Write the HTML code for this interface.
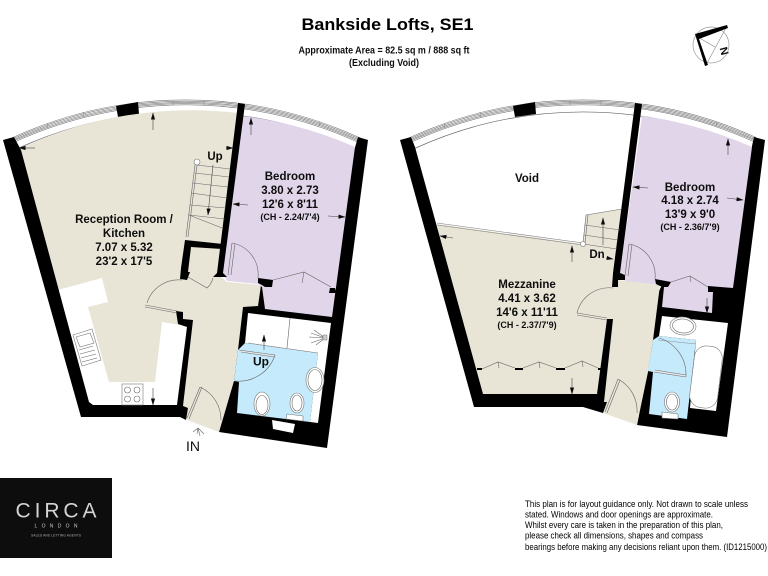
<!DOCTYPE html>
<html><head><meta charset="utf-8"><style>
html,body{margin:0;padding:0;background:#fff;width:768px;height:576px;overflow:hidden}
svg{display:block;overflow:hidden}
text{font-family:"Liberation Sans",sans-serif;fill:#111}
.b{font-weight:bold;font-size:11.5px;text-anchor:middle}
.s{font-weight:bold;font-size:9px;text-anchor:middle}
.d{font-size:9.6px;fill:#000}
.l{fill:none;stroke:#666;stroke-width:.6}
.f{fill:#fff;stroke:#777;stroke-width:.6}
.a{stroke:#444;stroke-width:.6;fill:none;marker-end:url(#m)}
</style></head><body>
<svg width="768" height="576" viewBox="0 0 768 576" xmlns="http://www.w3.org/2000/svg">
<defs>
<filter id="bl" filterUnits="userSpaceOnUse" x="0" y="0" width="768" height="576"><feGaussianBlur stdDeviation=".3"/></filter>
<marker id="m" markerWidth="7" markerHeight="5" refX="6.5" refY="2.5" orient="auto" markerUnits="userSpaceOnUse"><path d="M0,0.4L7,2.5L0,4.6z" fill="#111"/></marker>
<g id="win">
<g fill="none" stroke="#777" stroke-width=".6">
<path d="M12.6,137.6A418,418 0 0 1 359.4,137.6"/>
<path d="M13.1,138.7A416.8,416.8 0 0 1 358.9,138.7"/>
<path d="M13.7,139.8A415.6,415.6 0 0 1 358.3,139.8"/>
<path d="M14.1,140.9A414.4,414.4 0 0 1 357.9,140.9"/>
<path d="M14.6,142A413.2,413.2 0 0 1 357.4,142"/>
<path d="M17.6,148.5A406,406 0 0 1 354.4,148.5" stroke="#666" stroke-width=".7"/>
</g>
<g stroke="#888" stroke-width=".6"><path d="M47,123l1,5M83,112l1,5M173,101v4M204,101v4M320,122l-1,4"/></g>
<polygon points="116,106 138,102 139,114 118,117" fill="#000"/>
</g>
</defs>
<rect width="768" height="576" fill="#fff"/>
<g filter="url(#bl)">
<rect width="768" height="576" fill="#fff"/>

<!-- titles -->
<text x="387.5" y="30" font-size="17" font-weight="bold" text-anchor="middle" textLength="172" lengthAdjust="spacingAndGlyphs" style="fill:#000">Bankside Lofts, SE1</text>
<text x="384" y="53.5" font-size="10" font-weight="bold" text-anchor="middle" textLength="171" lengthAdjust="spacingAndGlyphs">Approximate Area = 82.5 sq m / 888 sq ft</text>
<text x="384" y="66" font-size="10" font-weight="bold" text-anchor="middle" textLength="70" lengthAdjust="spacingAndGlyphs">(Excluding Void)</text>

<!-- compass -->
<circle cx="711" cy="45" r="18" fill="none" stroke="#999" stroke-width=".7"/>
<path d="M696,36L715,47M727,26L706,65" stroke="#888" stroke-width=".6" fill="none"/>
<polygon points="695,34 727,25 728,28 699,39 708,65 705,66" fill="#000"/>
<text x="724" y="55" font-size="11" font-weight="bold" text-anchor="middle" transform="rotate(-105 724 51)">N</text>

<!-- LEFT PLAN -->
<use href="#win"/>
<polygon points="358,137 368,140 327,448 219,432 222,420 243,300 265,280 340,200" fill="#000"/>
<path d="M20,148A406,406 0 0 1 238,113L217,273L227,282L261,285L258,306L243,307L238,350L234,381L222,422L219,432L187,420L183,406L177,405L89,402Z" fill="#e8e5d7"/>
<path d="M243,116A406,406 0 0 1 355,147L332,317L265,309L262,287L258,284L227,281L223,273Z" fill="#e1d5ea"/>
<polygon points="335,288 330,288 329,293 336,293" fill="#000"/>
<polygon points="58,290 102,278 108,302 88,307 109,382 155,382 162,322 187,326 177,405 93,405 89,402" fill="#fff"/>
<polygon points="248,313 331,323 318,423 310,422 318,353 245,343" fill="#fff"/>
<polygon points="245,343 238,350 234,381 239,382 237,413 310,422 318,353" fill="#c5eafb"/>
<polygon points="272,420 295,424 293,433 273,429" fill="#fff"/>
<!-- walls -->
<polygon points="3,140 14,137 21,150 89,402 93,405 177,405 187,327 178,324 176,311 183,312 183,319 193,320 183,406 188,408 186,420 180,417 81,417" fill="#000"/>
<polygon points="238,103 245,104 223,273 227,277 213,277 217,273" fill="#000"/>
<polygon points="185,240 223,244 222,249 191,247 188,272 190,272 187,280 180,279 181,268" fill="#000"/>
<polygon points="258,278 273,280 272,287 265,287 262,285 258,283" fill="#000"/>
<!-- stairs -->
<g class="l">
<path d="M197,165L188,237M195,165L186,237"/>
<path d="M197,165L230,169M195,173L229,177M193,183L228,187M191,193L227,198M190,205L226,208M189,215L225,219M189,215L222,228"/>
</g>
<circle cx="197" cy="162" r="3" fill="#fff" stroke="#777" stroke-width=".6"/>
<path class="a" d="M213,165L208,215"/>
<!-- kitchen fittings -->
<polygon class="f" points="73,335 92,329 101,360 82,366"/>
<polygon class="f" points="76,337 90,333 94,343 80,347"/>
<path class="l" d="M79,350l14,-4M80,354l15,-4M81,358l15,-4M82,362l15,-4"/>
<rect class="f" x="122" y="384" width="21" height="21"/>
<circle class="l" cx="127.5" cy="390" r="3"/><circle class="l" cx="137" cy="390" r="3"/><circle class="l" cx="127.5" cy="399" r="3"/><circle class="l" cx="137" cy="399" r="3"/>
<path class="a" d="M153,388V405"/>
<!-- doors -->
<path d="M145,305L177,311M145,307L177,313" class="l"/>
<path class="l" d="M147,303A33,33 0 0 1 182,280"/>
<path class="l" d="M188,277L207,288A20,20 0 0 0 213,278"/>
<path d="M232,243L228,275M235,243L231,275" class="l"/>
<path class="l" d="M232,243A32,32 0 0 1 258,278"/>
<path class="l" d="M273,280L304,272L331,287M304,272L302,283"/>
<path class="l" d="M200,387L187,418M202,387L189,419"/>
<path class="l" d="M200,387A36,36 0 0 1 221,420"/>
<!-- bathroom left -->
<path d="M290,318L287,348" class="l"/>
<path d="M248,343L318,353" stroke="#777" stroke-width=".5" fill="none"/>
<path d="M239,350L275,355L274,357L241,352" fill="#e4e8ec" stroke="#666" stroke-width=".5"/>
<path class="l" d="M275,355A38,38 0 0 1 235,381"/>
<path class="a" d="M264,350V335"/>
<text class="b" x="261" y="365.5" style="font-size:12px">Up</text>
<path class="l" d="M309,337L325,338M311,333L325,338M311,343L325,338M314,330L325,338M316,345L325,338"/>
<rect x="323" y="335" width="4" height="5" fill="#ccc" stroke="#666" stroke-width=".4"/>
<ellipse class="f" cx="315" cy="380" rx="9" ry="12.5"/><ellipse class="l" cx="315" cy="380" rx="7" ry="10.5"/>
<ellipse class="f" cx="262" cy="404" rx="8" ry="12"/><ellipse class="l" cx="262" cy="405" rx="6" ry="9.5"/>
<ellipse class="f" cx="297" cy="403" rx="7" ry="10"/><ellipse class="l" cx="297" cy="403" rx="5" ry="8"/>
<polygon class="f" points="287,414 303,416 303,421 286,419"/>

<!-- left plan arrows -->
<path class="a" d="M153,130V113"/><path class="a" d="M35,148H19"/><path class="a" d="M226,148H233"/><path class="a" d="M248,205L233,204"/><path class="a" d="M251,135V118"/><path class="a" d="M328,216L345,217"/>

<!-- left labels -->
<text class="b" x="124" y="223">Reception Room /</text>
<text class="b" x="124" y="237">Kitchen</text>
<text class="b" x="124" y="251">7.07 x 5.32</text>
<text class="b" x="124" y="265">23'2 x 17'5</text>
<text class="b" x="215" y="160">Up</text>
<text class="b" x="290" y="180">Bedroom</text>
<text class="b" x="290" y="194">3.80 x 2.73</text>
<text class="b" x="290" y="208">12'6 x 8'11</text>
<text class="s" x="290" y="220">(CH - 2.24/7'4)</text>
<text x="193" y="451" font-size="14" text-anchor="middle">IN</text>
<path class="l" d="M198,428L193,432M198,428L200,436M198,428L204,434M198,428L197,434"/>

<!-- RIGHT PLAN -->
<use href="#win" transform="translate(397,0)"/>
<polygon points="754,137 765,140 727,437 637,425 639,415 655,300 665,278 740,200" fill="#000"/>
<polygon points="437,224 583,244 586,215 622,209 612,287 618,280 660,285 653,340 648,372 639,415 637,425 603,413 583,407 474,407" fill="#e8e5d7"/>
<path d="M642,116A406,406 0 0 1 752,147L733,288L708,286L708,292L713,292L712,313L662,307L664,287L660,285L625,281L620,273Z" fill="#e1d5ea"/>
<polygon points="662,316 728,323 716,411 690,408 696,340 659,336" fill="#fff"/>
<polygon points="659,336 696,340 687,419 649,414 653,372 648,371 653,340" fill="#c5eafb"/>
<polygon points="400,140 411,137 415,147 483,394 597,394 607,319 613,319 604,402 607,402 603,413 583,407 474,407" fill="#000"/>
<polygon points="635,103 642,104 620,273 625,275 625,280 618,280 618,287 612,287 613,273" fill="#000"/>
<polygon points="655,279 671,282 668,287 664,287 660,286 656,284" fill="#000"/>
<!-- void edge -->
<path d="M437,223L583,243M437,225L583,245" stroke="#777" stroke-width=".6" fill="none"/>
<!-- stairs right -->
<g class="l">
<path d="M586,215L583,243M588,215L585,243M586,215L622,209M585,225L620,230M584,235L618,240M583,244L617,249"/>
</g>
<circle cx="583" cy="244" r="2.5" fill="#fff" stroke="#777" stroke-width=".6"/>
<path class="a" d="M603,245V218"/>
<!-- wardrobe -->
<g fill="#000"><rect x="477" y="368" width="5" height="2"/><rect x="515" y="368" width="8" height="2"/><rect x="556" y="368" width="9" height="2"/><rect x="598" y="368" width="3" height="2"/></g>
<path class="l" d="M482,369L498,362L515,368M498,362l1,6M523,368L539,362L556,368M539,362l1,6M565,368L582,361L598,368M582,361l1,6"/>
<path class="a" d="M572,378V394"/>
<!-- doors right -->
<path class="l" d="M577,313L607,318M577,315L607,320M577,313A33,33 0 0 1 613,288"/>
<path class="l" d="M629,244L625,276M632,244L628,276M629,244A32,32 0 0 1 655,279"/>
<path class="l" d="M671,282L690,276L708,287M690,276L691,282"/>
<path class="l" d="M618,379L605,412M620,380L607,413M618,379A36,36 0 0 1 637,413"/>
<!-- bathroom right -->
<path d="M658,340L696,344" stroke="#777" stroke-width=".4" fill="none"/>
<path class="l" d="M659,338A38,38 0 0 1 686,375"/>
<path d="M655,370L686,375L686,377L654,372" fill="#e4e8ec" stroke="#666" stroke-width=".5"/>
<ellipse class="f" cx="683" cy="326" rx="13" ry="9" transform="rotate(5 683 326)"/><ellipse class="l" cx="683" cy="326" rx="10.5" ry="7" transform="rotate(5 683 326)"/>
<rect class="f" x="692" y="346" width="28" height="62" rx="12" transform="rotate(7 706 377)"/>
<ellipse class="f" cx="672" cy="402" rx="7.5" ry="10"/><ellipse class="l" cx="672" cy="402" rx="5.5" ry="8"/>
<polygon class="f" points="662,412 678,414 678,419 662,418"/>
<!-- right arrows -->
<path class="a" d="M453,238L440,236"/><path class="a" d="M572,262V246"/><path class="a" d="M728,155V139"/><path class="a" d="M648,188L633,187"/><path class="a" d="M727,198L743,200"/><path class="a" d="M607,258L613,259"/><path class="a" d="M707,298V313"/>
<!-- right labels -->
<text class="b" x="527" y="182">Void</text>
<text class="b" x="597" y="258">Dn</text>
<text class="b" x="690" y="191">Bedroom</text>
<text class="b" x="690" y="204">4.18 x 2.74</text>
<text class="b" x="690" y="218">13'9 x 9'0</text>
<text class="s" x="690" y="230">(CH - 2.36/7'9)</text>
<text class="b" x="527" y="288">Mezzanine</text>
<text class="b" x="527" y="302">4.41 x 3.62</text>
<text class="b" x="527" y="316">14'6 x 11'11</text>
<text class="s" x="527" y="328">(CH - 2.37/7'9)</text>

<!-- logo -->
<rect x="0" y="478" width="112" height="80" fill="#0b0b0b"/>
<text x="56" y="517.5" font-size="21" text-anchor="middle" textLength="81" lengthAdjust="spacing" style="fill:#d4d4d4">CIRCA</text>
<text x="56" y="527.5" font-size="5" text-anchor="middle" textLength="43" style="fill:#ccc">LONDON</text>
<text x="56" y="536.5" font-size="3.4" text-anchor="middle" textLength="50" style="fill:#aaa">SALES AND LETTING AGENTS</text>

<!-- disclaimer -->
<text class="d" x="525" y="507" textLength="223" lengthAdjust="spacingAndGlyphs">This plan is for layout guidance only. Not drawn to scale unless</text>
<text class="d" x="525" y="517.5" textLength="188" lengthAdjust="spacingAndGlyphs">stated. Windows and door openings are approximate.</text>
<text class="d" x="525" y="528" textLength="198" lengthAdjust="spacingAndGlyphs">Whilst every care is taken in the preparation of this plan,</text>
<text class="d" x="525" y="538.5" textLength="178" lengthAdjust="spacingAndGlyphs">please check all dimensions, shapes and compass</text>
<text class="d" x="525" y="550" textLength="242" lengthAdjust="spacingAndGlyphs">bearings before making any decisions reliant upon them. (ID1215000)</text>
</g>
</svg>
</body></html>
